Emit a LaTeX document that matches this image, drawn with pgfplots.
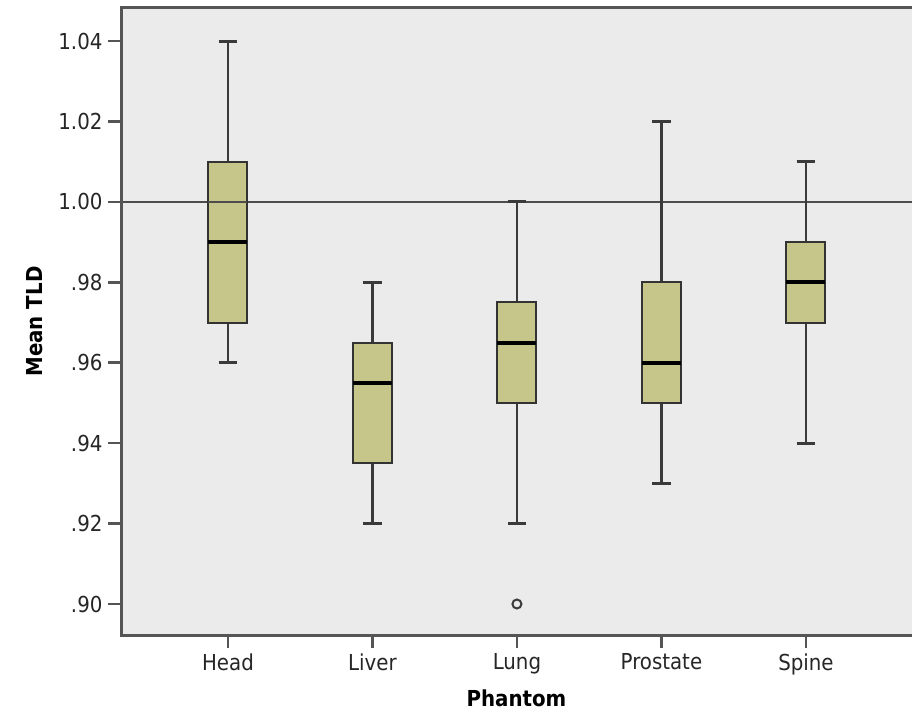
\documentclass[border=0pt]{standalone}
\usepackage{pgfplots}
\pgfplotsset{compat=1.18}
\usepackage{fontspec}
\setmainfont{DejaVu Sans Condensed}
\definecolor{boxfill}{HTML}{C6C68A}
\definecolor{bg}{HTML}{EBEBEB}
\definecolor{frame}{HTML}{555555}
\definecolor{wh}{HTML}{3A3A3A}
\begin{document}
\begin{tikzpicture}
\useasboundingbox (-121pt,-82pt) rectangle (791pt,635pt);
\begin{axis}[
  scale only axis,
  width=791pt, height=627pt,
  xmin=-0.74, xmax=4.734,
  ymin=0.89229, ymax=1.04821,
  axis background/.style={fill=bg},
  axis line style={draw=none},
  xtick={0,1,2,3,4},
  xticklabels={Head,Liver,Lung,Prostate,Spine},
  ytick={0.90,0.92,0.94,0.96,0.98,1.00,1.02,1.04},
  yticklabels={.90,.92,.94,.96,.98,1.00,1.02,1.04},
  xtick pos=bottom, ytick pos=left,
  tick align=outside,
  major tick length=13pt,
  every tick/.style={frame, line width=2.5pt},
  tick label style={font=\fontsize{22}{26}\selectfont, text=black!85},
  yticklabel style={xshift=-2pt},
  xticklabel style={yshift=-2pt},
  xlabel={\textbf{Phantom}},
  ylabel={\textbf{Mean TLD}},
  label style={font=\fontsize{22}{26}\selectfont},
  xlabel style={yshift=-8pt},
  ylabel style={yshift=9pt},
  clip=false,
]
\addplot [black!70, line width=2pt] coordinates {(-0.74,1.00) (4.734,1.00)};
% whiskers (vertical)
\addplot [wh, line width=2.5pt] coordinates {(0,0.96) (0,1.04)};
\addplot [wh, line width=2.5pt] coordinates {(1,0.92) (1,0.98)};
\addplot [wh, line width=2.5pt] coordinates {(2,0.92) (2,1.00)};
\addplot [wh, line width=2.5pt] coordinates {(3,0.93) (3,1.02)};
\addplot [wh, line width=2.5pt] coordinates {(4,0.94) (4,1.01)};
% caps
\addplot [wh, line width=3pt] coordinates {(-0.065,0.96) (0.065,0.96)};
\addplot [wh, line width=3pt] coordinates {(-0.065,1.04) (0.065,1.04)};
\addplot [wh, line width=3pt] coordinates {(0.935,0.92) (1.065,0.92)};
\addplot [wh, line width=3pt] coordinates {(0.935,0.98) (1.065,0.98)};
\addplot [wh, line width=3pt] coordinates {(1.935,0.92) (2.065,0.92)};
\addplot [wh, line width=3pt] coordinates {(1.935,1.00) (2.065,1.00)};
\addplot [wh, line width=3pt] coordinates {(2.935,0.93) (3.065,0.93)};
\addplot [wh, line width=3pt] coordinates {(2.935,1.02) (3.065,1.02)};
\addplot [wh, line width=3pt] coordinates {(3.935,0.94) (4.065,0.94)};
\addplot [wh, line width=3pt] coordinates {(3.935,1.01) (4.065,1.01)};
% boxes
\addplot [fill=boxfill, draw=black!80, line width=2pt] coordinates {(-0.135,0.97) (0.135,0.97) (0.135,1.01) (-0.135,1.01)} -- cycle;
\addplot [fill=boxfill, draw=black!80, line width=2pt] coordinates {(0.865,0.935) (1.135,0.935) (1.135,0.965) (0.865,0.965)} -- cycle;
\addplot [fill=boxfill, draw=black!80, line width=2pt] coordinates {(1.865,0.95) (2.135,0.95) (2.135,0.975) (1.865,0.975)} -- cycle;
\addplot [fill=boxfill, draw=black!80, line width=2pt] coordinates {(2.865,0.95) (3.135,0.95) (3.135,0.98) (2.865,0.98)} -- cycle;
\addplot [fill=boxfill, draw=black!80, line width=2pt] coordinates {(3.865,0.97) (4.135,0.97) (4.135,0.99) (3.865,0.99)} -- cycle;
% reference line over boxes (Head box crosses 1.00)
\addplot [black!70, line width=2pt] coordinates {(-0.135,1.00) (0.135,1.00)};
% medians
\addplot [black, line width=4pt] coordinates {(-0.135,0.99) (0.135,0.99)};
\addplot [black, line width=4pt] coordinates {(0.865,0.955) (1.135,0.955)};
\addplot [black, line width=4pt] coordinates {(1.865,0.965) (2.135,0.965)};
\addplot [black, line width=4pt] coordinates {(2.865,0.96) (3.135,0.96)};
\addplot [black, line width=4pt] coordinates {(3.865,0.98) (4.135,0.98)};
% outlier
\addplot [only marks, mark=o, mark size=4.5pt, mark options={draw=wh, line width=2pt}] coordinates {(2,0.90)};
\end{axis}
\draw[frame, line width=3pt] (791pt,627pt) -- (0,627pt) -- (0,0) -- (791pt,0);
\end{tikzpicture}
\end{document}
